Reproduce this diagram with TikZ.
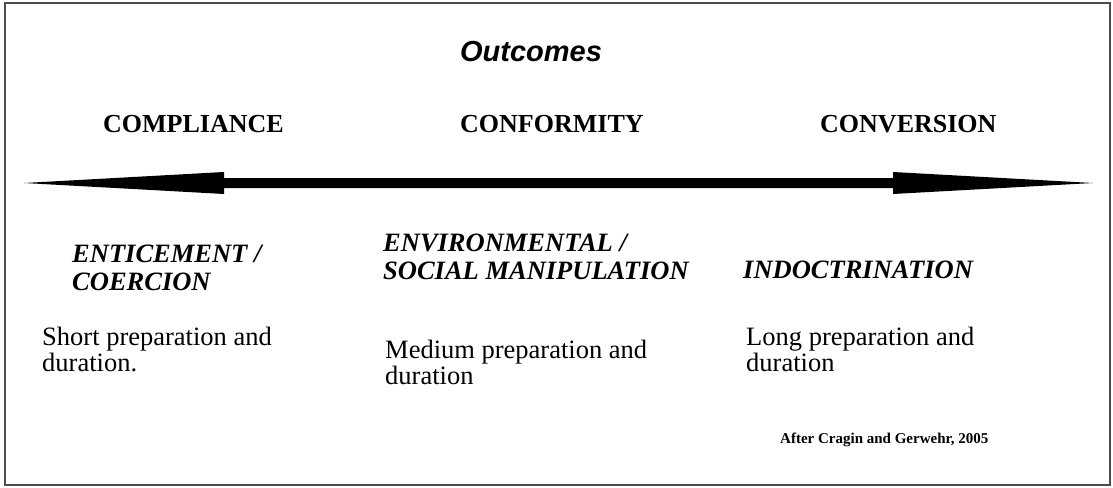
\documentclass[tikz,border=0pt]{standalone}
\usepackage{fontspec}
\setmainfont{Liberation Serif}
\newfontfamily\arialfont{Liberation Sans}
\begin{document}
\begin{tikzpicture}[x=1pt,y=-1pt,
  txt/.style={anchor=base west,inner sep=0pt,align=left},
  head/.style={txt,font=\fontsize{26}{27}\selectfont\bfseries},
  method/.style={txt,font=\fontsize{26.5}{27.5}\selectfont\bfseries\itshape},
  desc/.style={txt,font=\fontsize{26.5}{26}\selectfont},
  frame/.style={draw=black!70,line width=1.3pt}]
\useasboundingbox (0,0) rectangle (1113,487);
\draw[frame] (5,3) rectangle (1110,485);
% double arrow
\fill[black] (24,183) -- (224,172) -- (224,178) -- (893,178) -- (893,172) -- (1093,183)
  -- (893,194) -- (893,188) -- (224,188) -- (224,194) -- cycle;
\node[inner sep=0pt,anchor=base,font=\arialfont\fontsize{29}{30}\selectfont\bfseries\itshape] (out) at (531,62) {Outcomes};
\node[head] (comp) at (103,132) {COMPLIANCE};
\node[head] (conf) at (460,132) {CONFORMITY};
\node[head] (conv) at (820,132) {CONVERSION};
\node[method] (ent) at (72,290) {ENTICEMENT /\\COERCION};
\node[method] (env) at (383,279) {ENVIRONMENTAL /\\SOCIAL MANIPULATION};
\node[method] (ind) at (743,278) {INDOCTRINATION};
\node[desc] (short) at (42,371) {Short preparation and\\duration.};
\node[desc] (med) at (385,384) {Medium preparation and\\duration};
\node[desc] (long) at (746,371) {Long preparation and\\duration};
\node[txt,font=\fontsize{15}{16}\selectfont\bfseries] (src) at (780,443) {After Cragin and Gerwehr, 2005};
\end{tikzpicture}
\end{document}
